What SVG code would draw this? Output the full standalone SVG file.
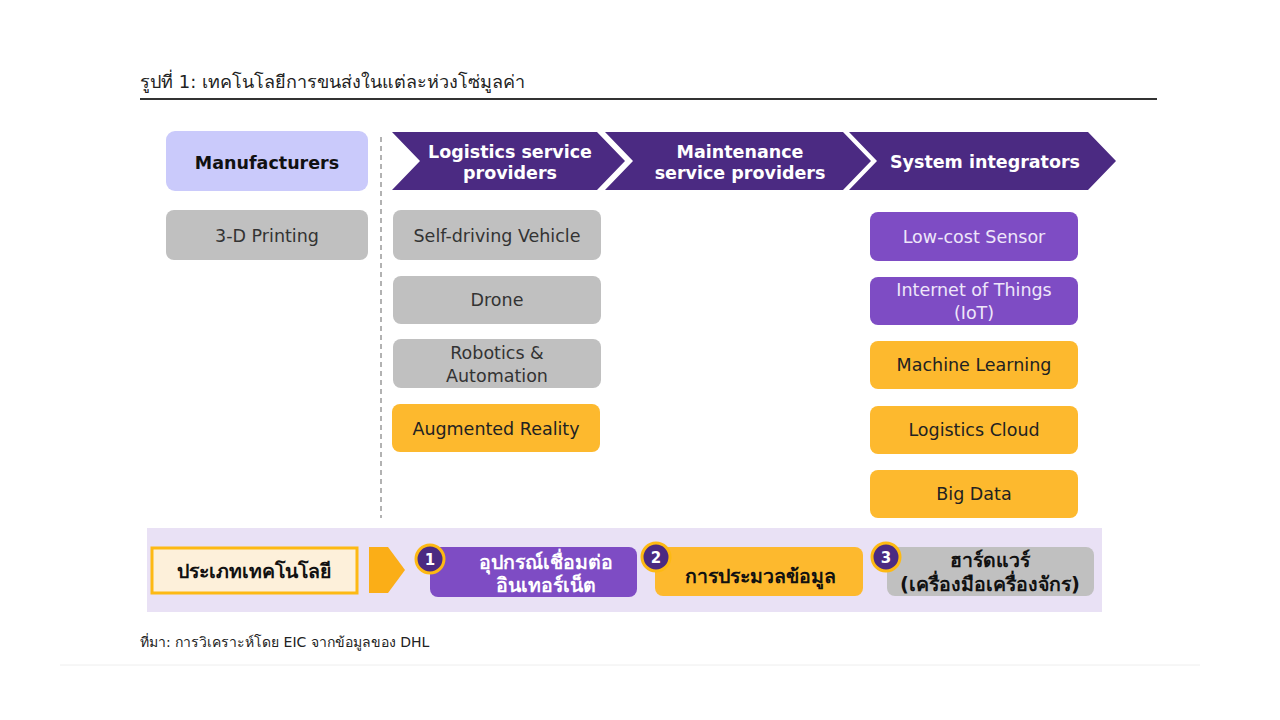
<svg xmlns="http://www.w3.org/2000/svg" width="1280" height="720" viewBox="0 0 1280 720">
<style>
text{font-family:"DejaVu Sans","Noto Sans",sans-serif;text-anchor:middle}
.hd{fill:#fff;font-weight:bold;font-size:17.5px}
.gb{fill:#C0C0C0}
.pb{fill:#7E4CC4}
.ob{fill:#FDB92E}
.gt{fill:#333;font-size:17.5px}
.pt{fill:#EEE6FA;font-size:17.5px}
.ot{fill:#222;font-size:17.5px}
.num{fill:#4B2A82;stroke:#FDB913;stroke-width:3}
.nt{fill:#fff;font-weight:bold;font-size:15px}
.th{font-weight:bold;font-size:19.5px}
</style>
<rect width="1280" height="720" fill="#fff"/>
<g id="title">
<text x="140" y="88" style="text-anchor:start;font-size:18px" fill="#222">รูปที่ 1: เทคโนโลยีการขนส่งในแต่ละห่วงโซ่มูลค่า</text>
<line x1="140" y1="99" x2="1157" y2="99" stroke="#333" stroke-width="2"/>
</g>
<g id="connectors">
<line x1="381" y1="137" x2="381" y2="518" stroke="#999" stroke-width="1.5" stroke-dasharray="5,4"/>
</g>
<g id="manufacturers">
<rect x="166" y="131" width="202" height="60" rx="9" fill="#CACAFB"/>
<text x="267" y="169" style="font-weight:bold;font-size:17.5px" fill="#111">Manufacturers</text>
</g>
<g id="logistics-header">
<polygon points="392,132 597,132 625,161 597,190 392,190 420,161" fill="#4B2A82"/>
<text class="hd" x="510" y="158">Logistics service</text>
<text class="hd" x="510" y="179">providers</text>
</g>
<g id="maintenance-header">
<polygon points="605,132 843,132 871,161 843,190 605,190 633,161" fill="#4B2A82"/>
<text class="hd" x="740" y="158">Maintenance</text>
<text class="hd" x="740" y="179">service providers</text>
</g>
<g id="integrators-header">
<polygon points="849,132 1088,132 1116,161 1088,190 849,190 877,161" fill="#4B2A82"/>
<text class="hd" x="985" y="168">System integrators</text>
</g>
<g id="printing">
<rect class="gb" x="166" y="210" width="202" height="50" rx="8"/>
<text class="gt" x="267" y="242">3-D Printing</text>
</g>
<g id="self-driving">
<rect class="gb" x="393" y="210" width="208" height="50" rx="8"/>
<text class="gt" x="497" y="242">Self-driving Vehicle</text>
</g>
<g id="drone">
<rect class="gb" x="393" y="276" width="208" height="48" rx="8"/>
<text class="gt" x="497" y="306">Drone</text>
</g>
<g id="robotics">
<rect class="gb" x="393" y="339" width="208" height="49" rx="8"/>
<text class="gt" x="497" y="359">Robotics &amp;</text>
<text class="gt" x="497" y="382">Automation</text>
</g>
<g id="ar">
<rect class="ob" x="392" y="404" width="208" height="48" rx="8"/>
<text class="ot" x="496" y="435">Augmented Reality</text>
</g>
<g id="sensor">
<rect class="pb" x="870" y="212" width="208" height="49" rx="8"/>
<text class="pt" x="974" y="243">Low-cost Sensor</text>
</g>
<g id="iot">
<rect class="pb" x="870" y="277" width="208" height="48" rx="8"/>
<text class="pt" x="974" y="296">Internet of Things</text>
<text class="pt" x="974" y="319">(IoT)</text>
</g>
<g id="ml">
<rect class="ob" x="870" y="341" width="208" height="48" rx="8"/>
<text class="ot" x="974" y="371">Machine Learning</text>
</g>
<g id="cloud">
<rect class="ob" x="870" y="406" width="208" height="48" rx="8"/>
<text class="ot" x="974" y="436">Logistics Cloud</text>
</g>
<g id="bigdata">
<rect class="ob" x="870" y="470" width="208" height="48" rx="8"/>
<text class="ot" x="974" y="500">Big Data</text>
</g>
<g id="legend">
<rect x="147" y="528" width="955" height="84" fill="#E9E1F5"/>
</g>
<g id="tech-type">
<rect x="152" y="548" width="205" height="45" fill="#FDF0DA" stroke="#FDB913" stroke-width="3"/>
<text class="th" x="254" y="578" fill="#111">ประเภทเทคโนโลยี</text>
</g>
<g id="legend-arrow">
<polygon points="369,547 388,547 405,570 388,593 369,593" fill="#FBAE17"/>
</g>
<g id="type-1">
<rect class="pb" x="430" y="547" width="207" height="50" rx="8"/>
<circle class="num" cx="430" cy="559" r="14"/>
<text class="nt" x="430" y="565">1</text>
<text class="th" x="546" y="569" fill="#fff">อุปกรณ์เชื่อมต่อ</text>
<text class="th" x="546" y="592" fill="#fff">อินเทอร์เน็ต</text>
</g>
<g id="type-2">
<rect class="ob" x="655" y="547" width="208" height="49" rx="8"/>
<circle class="num" cx="656" cy="557" r="14"/>
<text class="nt" x="656" y="563">2</text>
<text class="th" x="760" y="583" fill="#111">การประมวลข้อมูล</text>
</g>
<g id="type-3">
<rect class="gb" x="887" y="547" width="207" height="49" rx="8"/>
<circle class="num" cx="886" cy="557" r="14"/>
<text class="nt" x="886" y="563">3</text>
<text class="th" x="990" y="567" fill="#111">ฮาร์ดแวร์</text>
<text class="th" x="990" y="591" fill="#111">(เครื่องมือเครื่องจักร)</text>
</g>
<g id="source">
<text x="140" y="647" style="text-anchor:start;font-size:14px" fill="#222">ที่มา: การวิเคราะห์โดย EIC จากข้อมูลของ DHL</text>
<line x1="60" y1="665" x2="1200" y2="665" stroke="#EEE" stroke-width="1"/>
</g>
</svg>
